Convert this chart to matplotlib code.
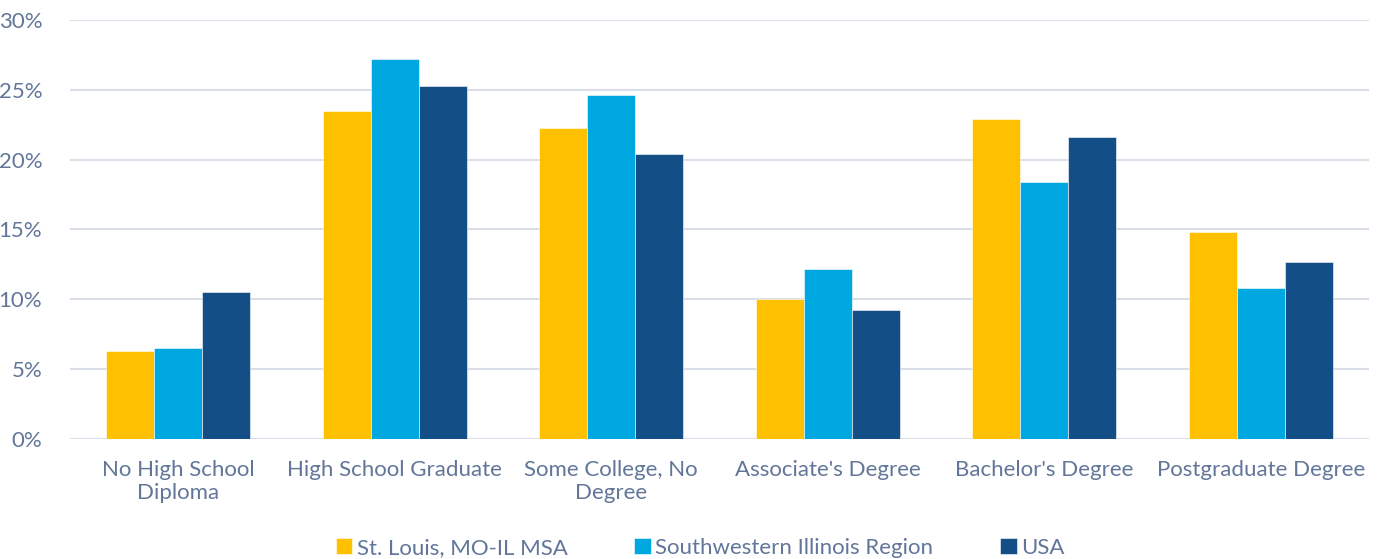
import numpy as np
import matplotlib
matplotlib.use('Agg')
from matplotlib import pyplot as plt

categories = ['No High School\nDiploma', 'High School Graduate', 'Some College, No\nDegree',
              "Associate's Degree", "Bachelor's Degree", 'Postgraduate Degree']
st_louis = [6.3, 23.5, 22.3, 10.0, 22.9, 14.8]
sw_illinois = [6.5, 27.2, 24.6, 12.2, 18.4, 10.8]
usa = [10.5, 25.3, 20.4, 9.2, 21.6, 12.7]
series_names = ['St. Louis, MO-IL MSA', 'Southwestern Illinois Region', 'USA']

colors = ['#ffc000', '#00a8e1', '#134f86']
text_color = '#62769a'

plt.rcParams['font.family'] = ['Lato', 'DejaVu Sans']

fig = plt.figure(figsize=(13.79, 5.59), dpi=100)
ax = fig.add_axes([0.0508, 0.2147, 0.942, 0.7495])

x = np.arange(len(categories))
w = 0.222
for i, (vals, name) in enumerate(zip([st_louis, sw_illinois, usa], series_names)):
    ax.bar(x + (i - 1) * w, vals, w, color=colors[i], label=name,
           edgecolor='white', linewidth=0.4, zorder=3)

ax.set_xlim(-0.5, len(categories) - 0.5)
ax.set_ylim(0, 30)
ax.set_yticks(np.arange(0, 31, 5))
ax.set_yticklabels(['%d%%' % v for v in range(0, 31, 5)])
ax.set_xticks(x)
ax.set_xticklabels(categories, linespacing=1.2)
ax.grid(axis='y', color='#d9dee8', linewidth=1.5, zorder=0)
ax.tick_params(axis='both', length=0, labelsize=16, colors=text_color)
ax.tick_params(axis='x', pad=15)
ax.tick_params(axis='y', pad=20)
for s in ax.spines.values():
    s.set_visible(False)

# legend sits a little left of the axes centre
leg = ax.legend(loc='lower center', bbox_to_anchor=(0.485, -0.315), ncol=3, frameon=False,
                fontsize=16, handlelength=0.75, handleheight=0.75, handletextpad=0.2,
                columnspacing=3.0, labelcolor=text_color, borderpad=0.1)

fig.savefig('out.png', dpi=100)
